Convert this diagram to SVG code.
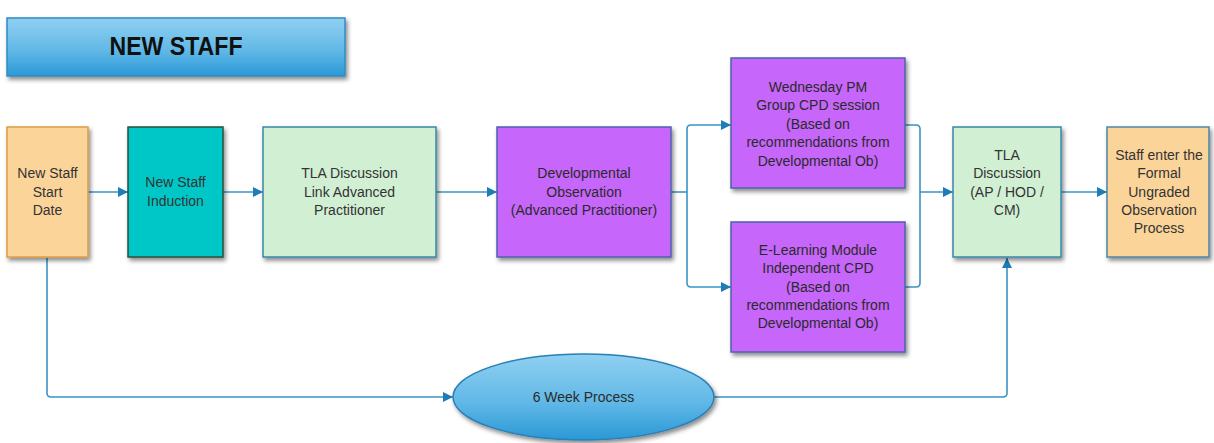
<svg xmlns="http://www.w3.org/2000/svg" width="1214" height="443" viewBox="0 0 1214 443">
  <defs>
    <linearGradient id="blueFill" x1="0" y1="0" x2="0" y2="1">
      <stop offset="0" stop-color="#8FD0F1"/>
      <stop offset="0.55" stop-color="#62B9E7"/>
      <stop offset="1" stop-color="#2A98D5"/>
    </linearGradient>
    <filter id="shadow" x="-10%" y="-10%" width="125%" height="130%">
      <feDropShadow dx="2" dy="3" stdDeviation="2" flood-color="#000" flood-opacity="0.45"/>
    </filter>
    <marker id="arrow" viewBox="0 0 10 10" refX="10" refY="5" markerWidth="10" markerHeight="10" markerUnits="userSpaceOnUse" orient="auto">
      <path d="M0,0 L10,5 L0,10 Z" fill="#1F7DB6"/>
    </marker>
    <style>
      .box { filter: url(#shadow); stroke-width: 1.5; }
      .label { font-family: "Liberation Sans", Arial, sans-serif; font-size: 14px; fill: #333; text-anchor: middle; }
      .dark { fill: #2a2a2a; }
      .conn { fill: none; stroke: #3C93C6; stroke-width: 1.6; }
      .conn-arrow { marker-end: url(#arrow); }
    </style>
  </defs>

  <rect width="1214" height="443" fill="#ffffff"/>

  <!-- Title banner -->
  <g id="title">
    <rect class="box" x="7" y="18" width="338" height="58" fill="url(#blueFill)" stroke="#2F8CC2"/>
    <text x="176" y="55" font-family="Liberation Sans, Arial, sans-serif" font-size="26" font-weight="bold" fill="#111" text-anchor="middle" textLength="133" lengthAdjust="spacingAndGlyphs">NEW STAFF</text>
  </g>

  <!-- Connectors -->
  <g id="connectors">
    <path class="conn conn-arrow" d="M88,192 H128"/>
    <path class="conn conn-arrow" d="M223,192 H263"/>
    <path class="conn conn-arrow" d="M436,192 H497"/>
    <!-- split towards the two CPD routes -->
    <path class="conn" d="M671,192 H687"/>
    <path class="conn conn-arrow" d="M687,192 V129 Q687,125 691,125 H731"/>
    <path class="conn conn-arrow" d="M687,192 V283 Q687,287 691,287 H731"/>
    <!-- merge back into the TLA discussion -->
    <path class="conn" d="M905,125 H916 Q920,125 920,129 V192"/>
    <path class="conn" d="M905,287 H916 Q920,287 920,283 V192"/>
    <path class="conn conn-arrow" d="M920,192 H953"/>
    <path class="conn conn-arrow" d="M1061,192 H1107"/>
    <!-- six week track -->
    <path class="conn conn-arrow" d="M47,258 V393 Q47,397 51,397 H453"/>
    <path class="conn conn-arrow" d="M714,397 H1003 Q1007,397 1007,393 V258"/>
  </g>

  <g id="start">
    <rect class="box" x="7" y="127" width="81" height="130" fill="#FBD49A" stroke="#DB9C45"/>
    <text class="label" x="47.5" y="178">New Staff</text>
    <text class="label" x="47.5" y="197">Start</text>
    <text class="label" x="47.5" y="215">Date</text>
  </g>

  <g id="induction">
    <rect class="box" x="128" y="127" width="95" height="130" fill="#00C7C7" stroke="#26503F"/>
    <text class="label" x="175.5" y="187">New Staff</text>
    <text class="label" x="175.5" y="206">Induction</text>
  </g>

  <g id="tla-link">
    <rect class="box" x="263" y="127" width="173" height="130" fill="#D1EFD3" stroke="#3A86AA"/>
    <text class="label" x="349.5" y="178">TLA Discussion</text>
    <text class="label" x="349.5" y="197">Link Advanced</text>
    <text class="label" x="349.5" y="215">Practitioner</text>
  </g>

  <g id="dev-obs">
    <rect class="box" x="497" y="127" width="174" height="130" fill="#C766FA" stroke="#4E62AE"/>
    <text class="label dark" x="584" y="178">Developmental</text>
    <text class="label dark" x="584" y="197">Observation</text>
    <text class="label dark" x="584" y="215">(Advanced Practitioner)</text>
  </g>

  <g id="wednesday-cpd">
    <rect class="box" x="731" y="58" width="174" height="130" fill="#C766FA" stroke="#4E62AE"/>
    <text class="label dark" x="818" y="92">Wednesday PM</text>
    <text class="label dark" x="818" y="110">Group CPD session</text>
    <text class="label dark" x="818" y="129">(Based on</text>
    <text class="label dark" x="818" y="147">recommendations from</text>
    <text class="label dark" x="818" y="166">Developmental Ob)</text>
  </g>

  <g id="elearning-cpd">
    <rect class="box" x="731" y="222" width="174" height="130" fill="#C766FA" stroke="#4E62AE"/>
    <text class="label dark" x="818" y="255">E-Learning Module</text>
    <text class="label dark" x="818" y="273">Independent CPD</text>
    <text class="label dark" x="818" y="292">(Based on</text>
    <text class="label dark" x="818" y="310">recommendations from</text>
    <text class="label dark" x="818" y="328">Developmental Ob)</text>
  </g>

  <g id="tla-discussion">
    <rect class="box" x="953" y="127" width="108" height="130" fill="#D1EFD3" stroke="#3A86AA"/>
    <text class="label" x="1007" y="160">TLA</text>
    <text class="label" x="1007" y="178">Discussion</text>
    <text class="label" x="1007" y="197">(AP / HOD /</text>
    <text class="label" x="1007" y="215">CM)</text>
  </g>

  <g id="formal-observation">
    <rect class="box" x="1107" y="127" width="102" height="130" fill="#FBD49A" stroke="#4D86A6"/>
    <text class="label" x="1159" y="160">Staff enter the</text>
    <text class="label" x="1159" y="178">Formal</text>
    <text class="label" x="1159" y="197">Ungraded</text>
    <text class="label" x="1159" y="215">Observation</text>
    <text class="label" x="1159" y="233">Process</text>
  </g>

  <g id="six-week">
    <ellipse class="box" cx="583.5" cy="397" rx="130.5" ry="43" fill="url(#blueFill)" stroke="#2A7FB5"/>
    <text class="label dark" x="583.5" y="402">6 Week Process</text>
  </g>
</svg>
